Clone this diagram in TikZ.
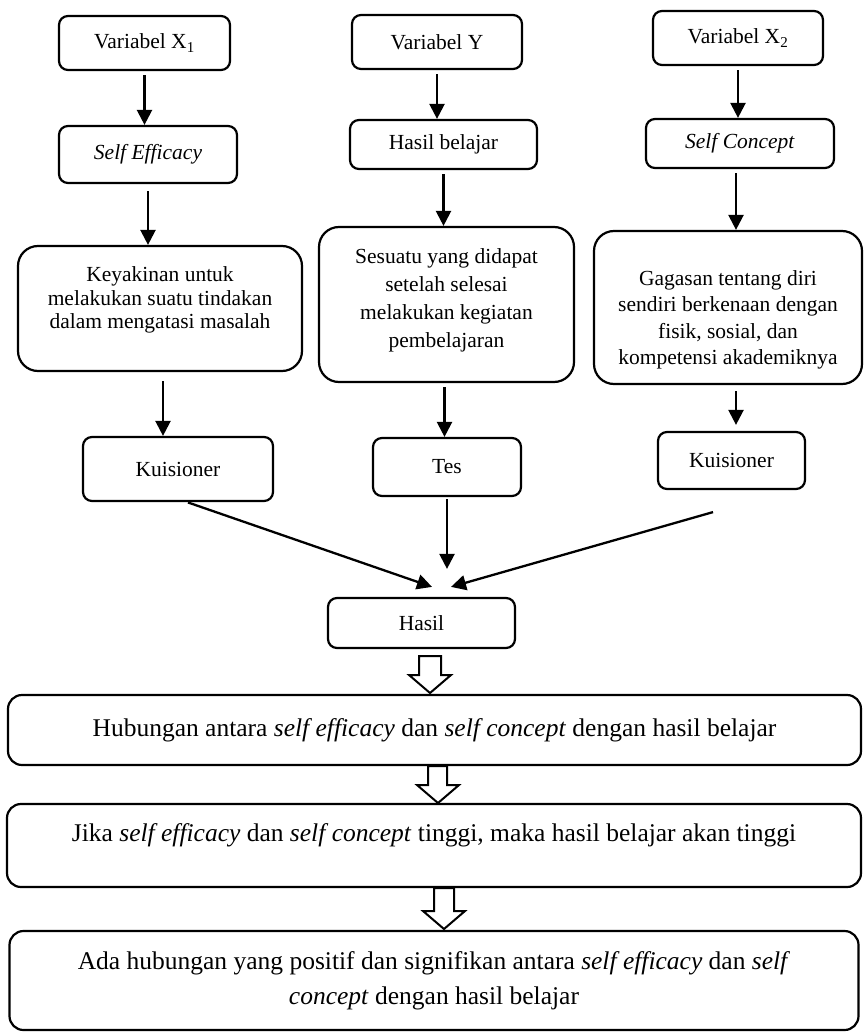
\documentclass[tikz,border=0pt]{standalone}
\usepackage{fontspec}
\setmainfont{Liberation Serif}
\usetikzlibrary{arrows.meta}
\newcommand{\diagsmall}{\fontsize{21.5}{24}\selectfont}
\newcommand{\diaglarge}{\fontsize{25.5}{35}\selectfont}
\begin{document}
\begin{tikzpicture}[x=1pt,y=-1pt,
  box/.style={draw, line width=2.2pt, rounded corners=9pt, inner sep=0pt, font=\diagsmall},
  rbox/.style={draw, line width=2.2pt, rounded corners=20pt, inner sep=0pt},
  bbox/.style={draw, line width=2.2pt, rounded corners=14pt, inner sep=0pt, font=\diaglarge},
  txt/.style={align=center, inner sep=0pt},
  arr/.style={line width=2.3pt, shorten <=4pt, -{Triangle[length=15pt,width=15pt]}},
  hollow/.style={draw, fill=white, line width=2pt, line join=miter}]
\fill[white] (0,0) rectangle (865,1032);
\useasboundingbox (0,0) rectangle (865,1032);

% column 1
\node[box, minimum width=171pt, minimum height=54pt] (v1) at (144.5,43) {Variabel X\textsubscript{1}};
\node[box, minimum width=178pt, minimum height=57pt] (se) at (148,154.5) {\textit{Self Efficacy}};
\node[rbox, minimum width=284pt, minimum height=125pt] (k1) at (160,308.5) {};
\node[txt, font={\fontsize{21.5}{23.5}\selectfont}] (k1t) at (160,300) {Keyakinan untuk\\melakukan suatu tindakan\\dalam mengatasi masalah};
\node[box, minimum width=190pt, minimum height=64pt] (ku1) at (178,469) {Kuisioner};

% column 2
\node[box, minimum width=170pt, minimum height=54pt] (vy) at (437,42) {Variabel Y};
\node[box, minimum width=187pt, minimum height=49pt] (hb) at (443.5,144.5) {Hasil belajar};
\node[rbox, minimum width=255pt, minimum height=155pt] (ss) at (446.5,304.5) {};
\node[txt, font={\fontsize{21.5}{28}\selectfont}] (sst) at (446.5,300) {Sesuatu yang didapat\\setelah selesai\\melakukan kegiatan\\pembelajaran};
\node[box, minimum width=148pt, minimum height=58pt] (tes) at (447,467) {Tes};

% column 3
\node[box, minimum width=170pt, minimum height=54pt] (v2) at (738,38) {Variabel X\textsubscript{2}};
\node[box, minimum width=188pt, minimum height=49pt] (sc) at (740,143.5) {\textit{Self Concept}};
\node[rbox, minimum width=268pt, minimum height=153pt] (gg) at (728,307.5) {};
\node[txt, font={\fontsize{21.5}{26.5}\selectfont}] (ggt) at (728,320) {Gagasan tentang diri\\sendiri berkenaan dengan\\fisik, sosial, dan\\kompetensi akademiknya};
\node[box, minimum width=147pt, minimum height=57pt] (ku2) at (731.5,460.5) {Kuisioner};

% result
\node[box, minimum width=187pt, minimum height=50pt] (hasil) at (421.5,623) {Hasil};

% big boxes
\node[bbox, minimum width=853pt, minimum height=70pt] (b1) at (434.5,730) {Hubungan antara \textit{self efficacy} dan \textit{self concept} dengan hasil belajar};
\node[bbox, minimum width=854pt, minimum height=83pt] (b2) at (434,845.5) {};
\node[txt, font=\diaglarge] (b2t) at (434,835) {Jika \textit{self efficacy} dan \textit{self concept} tinggi, maka hasil belajar akan tinggi};
\node[bbox, minimum width=849pt, minimum height=99pt] (b3) at (434,980.5) {};
\node[txt, font=\diaglarge] (b3t) at (434,980.5) {Ada hubungan yang positif dan signifikan antara \textit{self efficacy} dan \textit{self}\\\textit{concept} dengan hasil belajar};

% connectors
\draw[arr] (v1.south) -- (v1.south |- se.north);
\draw[arr, shorten <=7pt] (se.south) -- (se.south |- k1.north);
\draw[arr, shorten <=9pt] ([xshift=3pt]k1.south) -- ([xshift=3pt]k1.south |- ku1.north);
\draw[arr] (vy.south) -- (vy.south |- hb.north);
\draw[arr] (hb.south) -- (hb.south |- ss.north);
\draw[arr] ([xshift=-2pt]ss.south) -- ([xshift=-2pt]ss.south |- tes.north);
\draw[arr] (v2.south) -- (v2.south |- sc.north);
\draw[arr] ([xshift=-4pt]sc.south) -- ([xshift=-4pt]sc.south |- gg.north);
\draw[arr, shorten <=6pt, shorten >=6pt] ([xshift=8pt]gg.south) -- ([xshift=8pt]gg.south |- ku2.north);

\draw[arr, shorten <=1pt] ([xshift=9pt]ku1.south) -- ([shift={(10.5,-10)}]hasil.north);
\draw[arr, shorten <=2pt] (tes.south) -- ([shift={(25.5,-28)}]hasil.north);
\draw[arr, shorten <=0pt] ([shift={(-18.5,22)}]ku2.south) -- ([shift={(29.5,-10)}]hasil.north);

% hollow arrows
\draw[hollow] (419,656) -- (441,656) -- (441,675) -- (451,675) -- (430,693) -- (409,675) -- (419,675) -- cycle;
\draw[hollow] (428,766) -- (447,766) -- (447,785) -- (459,785) -- (438,803) -- (417,785) -- (428,785) -- cycle;
\draw[hollow] (434,888) -- (454,888) -- (454,911) -- (465,911) -- (444,929) -- (423,911) -- (434,911) -- cycle;
\end{tikzpicture}
\end{document}
